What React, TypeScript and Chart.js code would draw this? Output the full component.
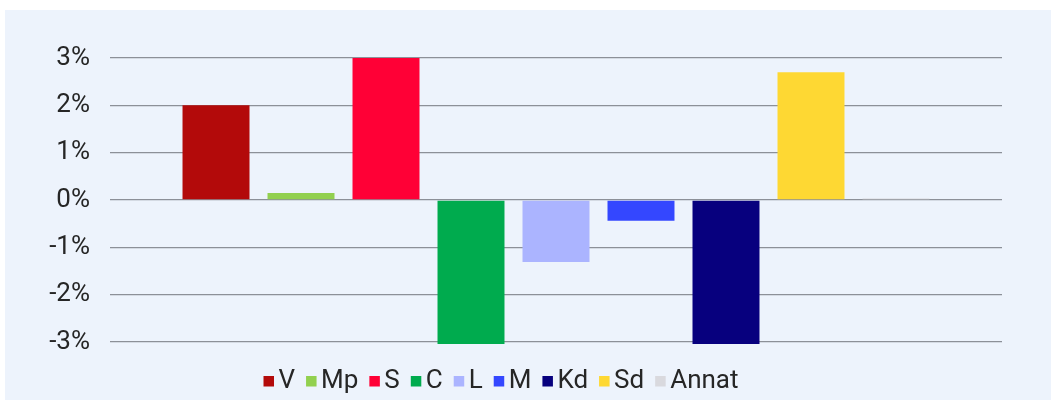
import React, { useEffect, useRef } from "react";
import { Chart, registerables } from "chart.js";

Chart.register(...registerables);

const parties = ["V", "Mp", "S", "C", "L", "M", "Kd", "Sd", "Annat"];
const changes = [2.0, 0.15, 3.0, -3.04, -1.31, -0.44, -3.04, 2.7, 0.03];
const partyColors = [
  "#B30A0A",
  "#92D04F",
  "#FF0036",
  "#00AB4E",
  "#ABB4FF",
  "#3447FF",
  "#07007E",
  "#FED833",
  "#D9D9DE",
];
const yTicks = [-3, -2, -1, 0, 1, 2, 3];

const FONT = "Roboto, 'Liberation Sans', Arial, sans-serif";
const TEXT_COLOR = "#262626";
const BG = "#EDF3FC";

const customLegend = {
  id: "customLegend",
  afterDraw(chart: any) {
    const ctx = chart.ctx as CanvasRenderingContext2D;
    ctx.save();
    ctx.font = `26px ${FONT}`;
    const box = 10.5;
    const gapText = 4.5;
    const gapItem = 11;
    const items = chart.data.datasets.map((ds: any) => ({
      label: ds.label as string,
      color: ds.backgroundColor as string,
      w: ctx.measureText(ds.label).width,
    }));
    const total =
      items.reduce((s: number, it: any) => s + box + gapText + it.w, 0) +
      gapItem * (items.length - 1);
    const center = (chart.chartArea.left + chart.chartArea.right) / 2 - 55;
    let x = center - total / 2;
    const baseline = 378;
    ctx.textBaseline = "alphabetic";
    ctx.textAlign = "left";
    for (const it of items) {
      ctx.fillStyle = it.color;
      ctx.fillRect(x, baseline - 12, box, box);
      x += box + gapText;
      ctx.fillStyle = TEXT_COLOR;
      ctx.fillText(it.label, x, baseline);
      x += it.w + gapItem;
    }
    ctx.restore();
  },
};

export default function App() {
  const canvasRef = useRef<HTMLCanvasElement | null>(null);

  useEffect(() => {
    if (!canvasRef.current) return;
    const chart = new Chart(canvasRef.current, {
      type: "bar",
      data: {
        labels: [""],
        datasets: parties.map((p, i) => ({
          label: p,
          data: [changes[i]],
          backgroundColor: partyColors[i],
          borderWidth: 0,
          clip: false as any,
          categoryPercentage: 0.8576,
          barPercentage: 0.788,
        })),
      },
      options: {
        animation: false,
        responsive: false,
        layout: { padding: { top: 48, bottom: 58, left: 0, right: 49 } },
        plugins: {
          legend: { display: false },
          tooltip: { enabled: false },
        },
        scales: {
          x: { display: false, offset: true },
          y: {
            min: -3,
            max: 3,
            afterFit: (scale: any) => {
              scale.width = 105;
            },
            afterBuildTicks: (scale: any) => {
              scale.ticks = yTicks.map((v) => ({ value: v }));
            },
            border: { display: false },
            grid: {
              color: "#8C9098",
              lineWidth: 1.3,
              drawTicks: false,
            },
            ticks: {
              padding: 20,
              color: TEXT_COLOR,
              font: { family: FONT, size: 26 },
              callback: (v: any) => `${v}%`,
            },
          },
        },
      },
      plugins: [customLegend],
    });
    return () => chart.destroy();
  }, []);

  return (
    <div
      style={{
        position: "absolute",
        left: 5,
        top: 10,
        width: 1046,
        height: 390,
        background: BG,
      }}
    >
      <canvas
        ref={canvasRef}
        width={1046}
        height={390}
        style={{ width: 1046, height: 390, display: "block" }}
      />
    </div>
  );
}
